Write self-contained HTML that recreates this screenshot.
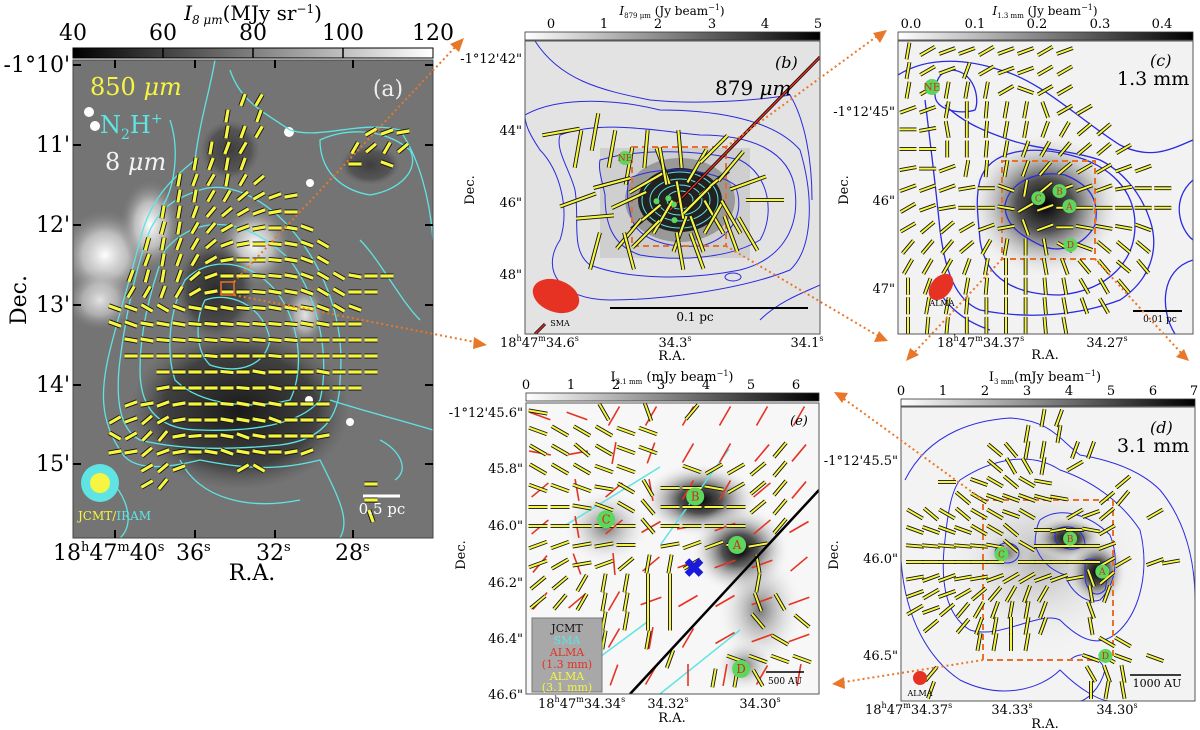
<!DOCTYPE html>
<html><head><meta charset="utf-8">
<style>
html,body{margin:0;padding:0;background:#fff;}
svg{display:block;font-family:"DejaVu Serif","Liberation Serif",serif;}
</style></head>
<body>
<svg id="fig" width="1200" height="730" viewBox="0 0 1200 730" xmlns="http://www.w3.org/2000/svg">
<defs>
  <linearGradient id="cbA" x1="0" x2="1"><stop offset="0" stop-color="#000"/><stop offset="1" stop-color="#fff"/></linearGradient>
  <linearGradient id="cbW" x1="0" x2="1"><stop offset="0" stop-color="#fff"/><stop offset="1" stop-color="#000"/></linearGradient>
  <radialGradient id="bright"><stop offset="0" stop-color="#fff"/><stop offset="0.5" stop-color="#ddd" stop-opacity="0.7"/><stop offset="1" stop-color="#888" stop-opacity="0"/></radialGradient>
  <radialGradient id="darkA"><stop offset="0" stop-color="#1a1a1a"/><stop offset="0.7" stop-color="#333" stop-opacity="0.8"/><stop offset="1" stop-color="#555" stop-opacity="0"/></radialGradient>
  <radialGradient id="blob"><stop offset="0" stop-color="#000"/><stop offset="0.35" stop-color="#333" stop-opacity="0.85"/><stop offset="1" stop-color="#fff" stop-opacity="0"/></radialGradient>
  <radialGradient id="blobSoft"><stop offset="0" stop-color="#555" stop-opacity="0.8"/><stop offset="1" stop-color="#fff" stop-opacity="0"/></radialGradient>
  <clipPath id="clipA"><rect x="73" y="60" width="360" height="478"/></clipPath>
  <clipPath id="clipB"><rect x="525" y="41" width="295" height="293"/></clipPath>
  <clipPath id="clipC"><rect x="898" y="41" width="295" height="293"/></clipPath>
  <clipPath id="clipD"><rect x="901" y="407" width="294" height="294"/></clipPath>
  <clipPath id="clipE"><rect x="526" y="403" width="293" height="291"/></clipPath>
</defs>

<!-- ============ PANEL A ============ -->
<g>
  <text x="253" y="20" font-size="20" text-anchor="middle"><tspan font-style="italic">I</tspan><tspan font-size="12" font-style="italic" dy="4">8 μm</tspan><tspan dy="-4">(MJy sr</tspan><tspan font-size="12" dy="-7">−1</tspan><tspan dy="7">)</tspan></text>
  <g font-size="22" text-anchor="middle">
    <text x="73" y="40">40</text><text x="163" y="40">60</text><text x="253" y="40">80</text><text x="343" y="40">100</text><text x="433" y="40">120</text>
  </g>
  <rect x="73" y="48" width="360" height="10" fill="url(#cbA)" stroke="#000"/>
  <g stroke="#000" stroke-width="1.5"><line x1="163" y1="48" x2="163" y2="58"/><line x1="253" y1="48" x2="253" y2="58"/><line x1="343" y1="48" x2="343" y2="58"/></g>
  <g clip-path="url(#clipA)">
    <rect x="73" y="60" width="360" height="478" fill="#747474"/>
    <ellipse cx="105" cy="255" rx="45" ry="45" fill="url(#bright)"/>
    <ellipse cx="150" cy="225" rx="30" ry="45" fill="url(#bright)"/>
    <ellipse cx="100" cy="300" rx="35" ry="30" fill="url(#bright)" opacity="0.8"/>
    <ellipse cx="255" cy="245" rx="35" ry="40" fill="url(#bright)"/>
    <ellipse cx="305" cy="315" rx="20" ry="30" fill="url(#bright)" opacity="0.8"/>
    <ellipse cx="240" cy="410" rx="110" ry="80" fill="url(#darkA)"/>
    <ellipse cx="215" cy="290" rx="40" ry="50" fill="url(#darkA)" opacity="0.8"/>
    <ellipse cx="230" cy="150" rx="30" ry="30" fill="url(#darkA)" opacity="0.6"/>
    <ellipse cx="370" cy="165" rx="30" ry="20" fill="url(#darkA)" opacity="0.6"/>
    <circle cx="89" cy="112" r="5" fill="#fff"/><circle cx="95" cy="126" r="5" fill="#fff"/><circle cx="289" cy="132" r="5" fill="#fff"/>
    <circle cx="310" cy="183" r="4" fill="#fff"/><circle cx="309" cy="400" r="4" fill="#fff"/><circle cx="350" cy="422" r="4" fill="#fff"/>
    <g fill="none" stroke="#5fe3e3" stroke-width="1.3">
      <path d="M215,60 C210,90 200,120 195,160 C170,180 150,200 140,240 C130,280 120,310 110,350 C100,390 100,420 120,450 C130,470 160,470 200,460 C250,470 280,470 320,460 C340,500 350,520 340,538"/>
      <path d="M230,70 C240,100 260,110 290,130 C320,140 360,120 400,130 C420,160 430,200 433,240"/>
      <path d="M150,230 C135,270 125,320 120,360 C115,400 120,430 140,440 C180,450 230,450 280,445 C320,440 340,420 340,380 C345,330 330,280 300,240 C270,200 230,180 200,190 C170,200 160,210 150,230Z"/>
      <path d="M165,250 C150,290 140,330 140,370 C140,410 160,430 200,430 C250,432 300,425 320,400 C330,360 320,300 290,260 C250,220 200,210 165,250Z"/>
      <path d="M185,280 C170,310 165,350 175,380 C200,405 250,410 290,400 C305,370 300,320 275,290 C250,260 210,255 185,280Z"/>
      <path d="M205,300 C195,320 195,350 210,365 C240,375 265,365 270,340 C265,310 235,290 205,300Z"/>
      <path d="M320,140 C340,130 380,125 410,150 C420,170 400,190 370,195 C340,190 320,170 320,140Z"/>
      <path d="M330,400 C360,410 400,420 433,430"/>
      <path d="M95,470 C120,480 140,520 120,538"/>
      <path d="M180,460 C200,500 250,510 300,500"/>
      <path d="M380,440 C400,450 410,470 395,480"/>
      <path d="M170,120 C180,150 175,190 160,210"/>
      <path d="M360,240 C380,260 400,300 420,320"/>
    </g>
    <g id="vecA"></g>
    <rect x="221" y="282" width="13" height="13" fill="none" stroke="#e8702a" stroke-width="1.5"/>
    <text x="388" y="96" font-size="22" fill="#eee" text-anchor="middle">(a)</text>
    <text x="90" y="95" font-size="24" fill="#f5f542">850 <tspan font-style="italic">μm</tspan></text>
    <text x="100" y="133" font-size="24" fill="#5fe3e3">N<tspan font-size="14" dy="6">2</tspan><tspan dy="-6">H</tspan><tspan font-size="14" dy="-10">+</tspan></text>
    <text x="105" y="170" font-size="24" fill="#f2f2f2">8 <tspan font-style="italic">μm</tspan></text>
    <circle cx="100" cy="483" r="19" fill="#5fe3e3"/>
    <circle cx="100" cy="483" r="10" fill="#f5f542"/>
    <text x="78" y="520" font-size="12" fill="#f5f542">JCMT/<tspan fill="#5fe3e3">IRAM</tspan></text>
    <line x1="363" y1="496" x2="400" y2="496" stroke="#fff" stroke-width="3"/>
    <text x="382" y="514" font-size="15" fill="#fff" text-anchor="middle">0.5 pc</text>
  </g>
  <rect x="73" y="60" width="360" height="478" fill="none" stroke="#444"/>
  <g id="ticksA"></g>
  <g font-size="22" text-anchor="end">
    <text x="70" y="72">-1°10'</text><text x="70" y="152">11'</text><text x="70" y="232">12'</text><text x="70" y="312">13'</text><text x="70" y="392">14'</text><text x="70" y="471">15'</text>
  </g>
  <g font-size="22">
    <text x="53" y="560">18<tspan font-size="13" dy="-9">h</tspan><tspan dy="9">47</tspan><tspan font-size="13" dy="-9">m</tspan><tspan dy="9">40</tspan><tspan font-size="13" dy="-9">s</tspan></text>
    <text x="176" y="560">36<tspan font-size="13" dy="-9">s</tspan></text>
    <text x="256" y="560">32<tspan font-size="13" dy="-9">s</tspan></text>
    <text x="335" y="560">28<tspan font-size="13" dy="-9">s</tspan></text>
  </g>
  <text x="252" y="580" font-size="22" text-anchor="middle">R.A.</text>
  <text x="0" y="0" font-size="22" text-anchor="middle" transform="translate(26,300) rotate(-90)">Dec.</text>
</g>

<!-- ============ PANEL B ============ -->
<g>
  <text x="672" y="15" font-size="12" text-anchor="middle"><tspan font-style="italic">I</tspan><tspan font-size="7" dy="3">879 μm</tspan><tspan dy="-3"> (Jy beam</tspan><tspan font-size="8" dy="-5">−1</tspan><tspan dy="5">)</tspan></text>
  <g font-size="13" text-anchor="middle"><text x="551" y="28">0</text><text x="604" y="28">1</text><text x="658" y="28">2</text><text x="712" y="28">3</text><text x="765" y="28">4</text><text x="818" y="28">5</text></g>
  <rect x="525" y="32" width="295" height="8" fill="url(#cbW)" stroke="#333" stroke-width="0.8"/>
  <g clip-path="url(#clipB)">
    <rect x="525" y="41" width="295" height="293" fill="#e3e3e3"/>
    <rect x="600" y="148" width="150" height="110" fill="#cfcfcf"/>
    <ellipse cx="680" cy="200" rx="55" ry="42" fill="#999"/>
    <ellipse cx="680" cy="200" rx="42" ry="32" fill="#222"/>
    <g fill="none" stroke="#2a2ae0" stroke-width="1">
      <path d="M535,41 C560,80 600,90 650,100 C700,105 760,100 790,95 C805,120 812,160 812,200"/>
      <path d="M525,115 C560,95 620,100 660,110 C700,110 770,115 800,150 C815,200 812,250 790,270 C740,290 660,300 610,300 C560,300 540,270 560,240 C570,210 560,170 540,150 C530,135 525,125 525,115Z"/>
      <path d="M560,135 C600,120 650,130 700,135 C750,135 790,150 795,190 C800,230 780,260 740,270 C690,280 630,280 590,265 C570,250 580,220 575,190 C570,170 555,150 560,135Z"/>
      <path d="M600,160 C640,148 700,150 740,160 C770,175 775,215 760,240 C730,258 680,262 640,255 C610,245 605,220 605,195 C602,180 598,170 600,160Z"/>
      <path d="M630,178 C660,165 710,168 735,185 C745,210 735,235 705,245 C670,250 640,240 632,220 C628,205 625,190 630,178Z"/>
      <path d="M760,320 C780,300 810,290 820,285"/>
      <ellipse cx="733" cy="277" rx="8" ry="4"/>
    </g>
    <g fill="none" stroke="#5fe3e3" stroke-width="1">
      <ellipse cx="680" cy="200" rx="38" ry="28"/><ellipse cx="680" cy="200" rx="30" ry="21"/><ellipse cx="680" cy="200" rx="22" ry="15"/><ellipse cx="680" cy="200" rx="13" ry="9"/>
    </g>
    <rect x="632" y="147" width="94" height="99" fill="none" stroke="#e8702a" stroke-width="2" stroke-dasharray="6,4"/>
    <line x1="670" y1="210" x2="820" y2="57" stroke="#000" stroke-width="3"/>
    <line x1="670" y1="210" x2="820" y2="57" stroke="#e03020" stroke-width="1.5"/>
    <line x1="535" y1="334" x2="545" y2="324" stroke="#000" stroke-width="3"/><line x1="535" y1="334" x2="545" y2="324" stroke="#e03020" stroke-width="1.5"/>
    <g id="vecB"></g>
    <g id="coresB"></g>
    <ellipse cx="556" cy="296" rx="24" ry="16" transform="rotate(20 556 296)" fill="#e53222"/>
    <text x="560" y="326" font-size="8" text-anchor="middle">SMA</text>
    <line x1="610" y1="308" x2="808" y2="308" stroke="#000" stroke-width="2"/>
    <text x="695" y="321" font-size="12" text-anchor="middle">0.1 pc</text>
    <text x="775" y="68" font-size="16" font-style="italic">(b)</text>
    <text x="715" y="95" font-size="20">879 <tspan font-style="italic">μm</tspan></text>
  </g>
  <rect x="525" y="41" width="295" height="293" fill="none" stroke="#555"/>
  <g font-size="13" text-anchor="end"><text x="522" y="63">-1°12'42"</text><text x="522" y="135">44"</text><text x="522" y="207">46"</text><text x="522" y="279">48"</text></g>
  <g font-size="13">
    <text x="500" y="347">18<tspan font-size="8" dy="-6">h</tspan><tspan dy="6">47</tspan><tspan font-size="8" dy="-6">m</tspan><tspan dy="6">34.6</tspan><tspan font-size="8" dy="-6">s</tspan></text>
    <text x="675" y="347" text-anchor="middle">34.3<tspan font-size="8" dy="-6">s</tspan></text>
    <text x="807" y="347" text-anchor="middle">34.1<tspan font-size="8" dy="-6">s</tspan></text>
  </g>
  <text x="672" y="360" font-size="13" text-anchor="middle">R.A.</text>
  <text font-size="13" text-anchor="middle" transform="translate(474,190) rotate(-90)">Dec.</text>
</g>

<!-- ============ PANEL C ============ -->
<g>
  <text x="1045" y="15" font-size="12" text-anchor="middle"><tspan font-style="italic">I</tspan><tspan font-size="7" dy="3">1.3 mm</tspan><tspan dy="-3"> (Jy beam</tspan><tspan font-size="8" dy="-5">−1</tspan><tspan dy="5">)</tspan></text>
  <g font-size="13" text-anchor="middle"><text x="911" y="28">0.0</text><text x="975" y="28">0.1</text><text x="1037" y="28">0.2</text><text x="1100" y="28">0.3</text><text x="1162" y="28">0.4</text></g>
  <rect x="898" y="32" width="295" height="8" fill="url(#cbW)" stroke="#333" stroke-width="0.8"/>
  <g clip-path="url(#clipC)">
    <rect x="898" y="41" width="295" height="293" fill="#f2f2f2"/>
    <ellipse cx="1045" cy="205" rx="80" ry="75" fill="url(#blob)"/>
    <g fill="none" stroke="#2a2ae0" stroke-width="1.3">
      <path d="M950,70 C975,70 980,100 975,110 C960,115 935,110 935,95 C935,80 940,72 950,70Z"/>
      <path d="M898,75 C930,55 970,60 1000,70 C1040,80 1080,120 1120,145 C1150,160 1170,150 1193,140"/>
      <path d="M925,100 C930,140 935,180 940,230 C945,270 955,300 980,310 C1030,320 1080,315 1120,300 C1150,280 1160,250 1150,220 C1140,190 1120,170 1100,160 C1070,150 1040,150 1010,140 C980,130 960,120 945,105"/>
      <path d="M980,180 C990,150 1030,145 1070,155 C1110,165 1135,190 1135,225 C1135,260 1110,290 1060,295 C1010,295 985,275 980,240 C978,215 975,200 980,180Z"/>
      <path d="M1005,205 C1010,180 1040,170 1065,175 C1090,185 1100,200 1095,225 C1085,245 1060,255 1040,245 C1020,235 1005,225 1005,205Z"/>
      <path d="M1193,180 C1170,200 1180,230 1193,240"/>
      <path d="M1193,260 C1160,270 1160,310 1175,334"/>
      <path d="M935,280 C940,300 960,320 990,330"/>
    </g>
    <rect x="1002" y="161" width="93" height="98" fill="none" stroke="#e8702a" stroke-width="2" stroke-dasharray="6,4"/>
    <g id="vecC"></g>
    <g id="coresC"></g>
    <ellipse cx="941" cy="287" rx="10" ry="15" transform="rotate(40 941 287)" fill="#e53222"/>
    <text x="942" y="306" font-size="8" text-anchor="middle">ALMA</text>
    <line x1="1133" y1="311" x2="1182" y2="311" stroke="#000" stroke-width="2"/>
    <text x="1160" y="322" font-size="9" text-anchor="middle">0.01 pc</text>
    <text x="1150" y="66" font-size="16" font-style="italic">(c)</text>
    <text x="1117" y="85" font-size="19">1.3 mm</text>
  </g>
  <rect x="898" y="41" width="295" height="293" fill="none" stroke="#555"/>
  <g font-size="13" text-anchor="end"><text x="895" y="116">-1°12'45"</text><text x="895" y="205">46"</text><text x="895" y="293">47"</text></g>
  <g font-size="13">
    <text x="937" y="347">18<tspan font-size="8" dy="-6">h</tspan><tspan dy="6">47</tspan><tspan font-size="8" dy="-6">m</tspan><tspan dy="6">34.37</tspan><tspan font-size="8" dy="-6">s</tspan></text>
    <text x="1107" y="347" text-anchor="middle">34.27<tspan font-size="8" dy="-6">s</tspan></text>
  </g>
  <text x="1045" y="359" font-size="13" text-anchor="middle">R.A.</text>
  <text font-size="13" text-anchor="middle" transform="translate(848,190) rotate(-90)">Dec.</text>
</g>

<!-- ============ PANEL E ============ -->
<g>
  <text x="672" y="381" font-size="13" text-anchor="middle">I<tspan font-size="7" dy="3">3.1 mm</tspan><tspan dy="-3"> (mJy beam</tspan><tspan font-size="8" dy="-5">−1</tspan><tspan dy="5">)</tspan></text>
  <g font-size="13" text-anchor="middle"><text x="526" y="389">0</text><text x="571" y="389">1</text><text x="616" y="389">2</text><text x="661" y="389">3</text><text x="706" y="389">4</text><text x="751" y="389">5</text><text x="796" y="389">6</text></g>
  <rect x="526" y="393" width="293" height="8" fill="url(#cbW)" stroke="#333" stroke-width="0.8"/>
  <g clip-path="url(#clipE)">
    <rect x="526" y="403" width="293" height="291" fill="#f7f7f7"/>
    <ellipse cx="606" cy="527" rx="45" ry="40" fill="url(#blobSoft)"/>
    <ellipse cx="700" cy="500" rx="60" ry="38" fill="url(#blob)"/>
    <ellipse cx="740" cy="550" rx="50" ry="45" fill="url(#blob)"/>
    <ellipse cx="760" cy="610" rx="45" ry="60" fill="url(#blobSoft)"/>
    <ellipse cx="745" cy="665" rx="30" ry="28" fill="url(#blobSoft)"/>
    <g stroke="#5fe3e3" stroke-width="1.5">
      <line x1="561" y1="528" x2="660" y2="467"/><line x1="661" y1="544" x2="729" y2="449"/>
      <line x1="555" y1="690" x2="650" y2="620"/><line x1="660" y1="694" x2="740" y2="630"/>
    </g>
    <g id="vecE"></g>
    <line x1="630" y1="694" x2="819" y2="490" stroke="#000" stroke-width="2.5"/>
    <text x="694" y="577" font-size="26" fill="#1a1adc" text-anchor="middle" font-weight="bold">✖</text>
    <g id="coresE"></g>
    <rect x="532" y="618" width="70" height="74" fill="#a8a8a8" stroke="#777"/>
    <g font-size="11" text-anchor="middle">
      <text x="567" y="632" fill="#111">JCMT</text><text x="567" y="644" fill="#5fe3e3">SMA</text>
      <text x="567" y="656" fill="#e53222">ALMA</text><text x="567" y="668" fill="#e53222">(1.3 mm)</text>
      <text x="567" y="680" fill="#f5f542">ALMA</text><text x="567" y="691" fill="#f5f542">(3.1 mm)</text>
    </g>
    <line x1="766" y1="672" x2="804" y2="672" stroke="#000" stroke-width="1.5"/>
    <text x="785" y="684" font-size="9" text-anchor="middle">500 AU</text>
    <text x="790" y="425" font-size="13" font-style="italic">(e)</text>
  </g>
  <rect x="526" y="403" width="293" height="291" fill="none" stroke="#555"/>
  <g font-size="13" text-anchor="end"><text x="523" y="417">-1°12'45.6"</text><text x="523" y="473">45.8"</text><text x="523" y="530">46.0"</text><text x="523" y="587">46.2"</text><text x="523" y="643">46.4"</text><text x="523" y="699">46.6"</text></g>
  <g font-size="13">
    <text x="538" y="708">18<tspan font-size="8" dy="-6">h</tspan><tspan dy="6">47</tspan><tspan font-size="8" dy="-6">m</tspan><tspan dy="6">34.34</tspan><tspan font-size="8" dy="-6">s</tspan></text>
    <text x="668" y="708" text-anchor="middle">34.32<tspan font-size="8" dy="-6">s</tspan></text>
    <text x="760" y="708" text-anchor="middle">34.30<tspan font-size="8" dy="-6">s</tspan></text>
  </g>
  <text x="672" y="722" font-size="13" text-anchor="middle">R.A.</text>
  <text font-size="13" text-anchor="middle" transform="translate(465,555) rotate(-90)">Dec.</text>
</g>

<!-- ============ PANEL D ============ -->
<g>
  <text x="1045" y="381" font-size="13" text-anchor="middle">I<tspan font-size="7" dy="3">3 mm</tspan><tspan dy="-3">(mJy beam</tspan><tspan font-size="8" dy="-5">−1</tspan><tspan dy="5">)</tspan></text>
  <g font-size="13" text-anchor="middle"><text x="901" y="395">0</text><text x="943" y="395">1</text><text x="985" y="395">2</text><text x="1027" y="395">3</text><text x="1069" y="395">4</text><text x="1111" y="395">5</text><text x="1153" y="395">6</text><text x="1194" y="395">7</text></g>
  <rect x="901" y="399" width="294" height="7" fill="url(#cbW)" stroke="#333" stroke-width="0.8"/>
  <g clip-path="url(#clipD)">
    <rect x="901" y="407" width="294" height="294" fill="#f3f3f3"/>
    <ellipse cx="1040" cy="560" rx="110" ry="100" fill="url(#blobSoft)" opacity="0.5"/>
    <ellipse cx="1007" cy="553" rx="25" ry="22" fill="url(#blobSoft)"/>
    <ellipse cx="1068" cy="538" rx="35" ry="22" fill="url(#blob)"/>
    <ellipse cx="1097" cy="572" rx="30" ry="35" fill="url(#blob)"/>
    <g fill="none" stroke="#2a2ae0" stroke-width="1">
      <path d="M905,480 C930,430 980,420 1010,418 C1050,420 1060,440 1080,455 C1110,460 1140,470 1160,490 C1185,520 1195,560 1195,600"/>
      <path d="M901,560 C905,620 930,660 960,680 C1000,700 1040,690 1060,670 C1080,690 1100,701 1110,701"/>
      <path d="M960,480 C990,460 1030,450 1060,470 C1090,480 1120,500 1140,530 C1150,570 1140,610 1120,630 C1100,650 1080,640 1060,620 C1040,610 1000,640 970,630 C945,615 940,580 945,540 C948,510 952,490 960,480Z"/>
      <path d="M1040,520 C1060,505 1090,515 1110,535 C1120,560 1115,585 1100,600 C1085,605 1070,590 1065,575 C1050,570 1040,560 1035,545 C1035,535 1037,525 1040,520Z"/>
      <path d="M1055,530 C1070,522 1085,530 1085,545 C1075,552 1060,550 1055,540Z"/>
      <path d="M1085,560 C1100,555 1110,570 1105,590 C1095,600 1085,590 1085,575Z"/>
      <ellipse cx="1007" cy="553" rx="12" ry="10"/>
      <path d="M1070,660 C1080,650 1100,655 1105,670 C1100,690 1085,701 1080,701"/>
    </g>
    <rect x="983" y="500" width="130" height="160" fill="none" stroke="#e8702a" stroke-width="2" stroke-dasharray="6,4"/>
    <g id="vecD"></g>
    <g id="coresD"></g>
    <circle cx="920" cy="678" r="7" fill="#e53222"/>
    <text x="920" y="696" font-size="8" text-anchor="middle">ALMA</text>
    <line x1="1130" y1="675" x2="1181" y2="675" stroke="#000" stroke-width="1.5"/>
    <text x="1157" y="687" font-size="11" text-anchor="middle">1000 AU</text>
    <text x="1150" y="433" font-size="16" font-style="italic">(d)</text>
    <text x="1117" y="452" font-size="19">3.1 mm</text>
  </g>
  <rect x="901" y="407" width="294" height="294" fill="none" stroke="#555"/>
  <g font-size="13" text-anchor="end"><text x="898" y="465">-1°12'45.5"</text><text x="898" y="563">46.0"</text><text x="898" y="660">46.5"</text></g>
  <g font-size="13">
    <text x="865" y="714">18<tspan font-size="8" dy="-6">h</tspan><tspan dy="6">47</tspan><tspan font-size="8" dy="-6">m</tspan><tspan dy="6">34.37</tspan><tspan font-size="8" dy="-6">s</tspan></text>
    <text x="1012" y="714" text-anchor="middle">34.33<tspan font-size="8" dy="-6">s</tspan></text>
    <text x="1117" y="714" text-anchor="middle">34.30<tspan font-size="8" dy="-6">s</tspan></text>
  </g>
  <text x="1045" y="728" font-size="13" text-anchor="middle">R.A.</text>
  <text font-size="13" text-anchor="middle" transform="translate(838,555) rotate(-90)">Dec.</text>
</g>

<!-- connectors -->
<g stroke="#e8772a" stroke-width="2" stroke-dasharray="2,3" fill="none">
  <line x1="234" y1="282" x2="458" y2="44"/>
  <line x1="234" y1="295" x2="480" y2="343"/>
  <line x1="726" y1="147" x2="880" y2="34"/>
  <line x1="726" y1="246" x2="880" y2="337"/>
  <line x1="1002" y1="259" x2="912" y2="355"/>
  <line x1="1095" y1="259" x2="1183" y2="355"/>
  <line x1="983" y1="500" x2="840" y2="396"/>
  <line x1="983" y1="660" x2="838" y2="683"/>
</g>
<g fill="#e8772a">
  <polygon points="464,38 450,44 459,52"/>
  <polygon points="487,345 474,337 473,349"/>
  <polygon points="887,30 873,33 880,43"/>
  <polygon points="888,341 874,342 879,331"/>
  <polygon points="906,361 910,348 919,355"/>
  <polygon points="1189,361 1176,357 1184,349"/>
  <polygon points="834,392 848,393 842,403"/>
  <polygon points="832,684 844,677 845,689"/>
</g>
</svg>

<script>
const _ = null;
// ---- Panel (a): 850um JCMT polarization angles (deg), rows top->bottom, 19 cols
const aAngles = [
 [_,_,_,_,_,_,_,_,70,60,_,_,_,_,_,_,_,_,_],
 [_,_,_,_,_,_,_,80,_,70,_,_,_,_,_,_,_,_,_],
 [_,_,_,_,_,_,_,80,70,60,_,_,_,_,_,_,30,20,10],
 [_,_,_,_,_,_,80,70,60,_,_,_,_,_,_,60,40,60,40],
 [_,_,_,_,_,80,70,80,70,_,_,_,_,_,_,0,_,-20,_],
 [_,_,_,_,80,70,60,80,60,40,_,_,_,_,_,_,_,_,_],
 [_,_,_,_,80,80,60,60,40,30,20,10,_,_,_,_,_,_,_],
 [_,_,_,80,80,70,50,40,30,20,10,0,_,_,_,_,_,_,_],
 [_,_,_,75,80,60,50,30,20,10,0,-10,-20,_,_,_,_,_,_],
 [_,_,75,80,70,60,40,20,10,0,-5,-10,-20,-30,_,_,_,_,_],
 [_,_,70,80,70,60,30,10,0,0,-5,-10,-20,-30,_,_,_,_,_],
 [_,70,75,80,70,40,20,0,0,-5,-5,-10,-20,-30,-30,-10,0,0,_],
 [_,60,60,70,60,30,10,0,0,-5,-10,-10,-20,-30,-30,0,0,_,_],
 [-20,-20,-30,-30,-20,-10,-10,-10,-5,-5,-10,-10,-10,-20,-30,-20,_,_,_],
 [-20,-20,-10,-10,-10,-5,-5,-5,-5,-5,-5,-5,-10,-10,0,0,_,_,_],
 [_,-10,-10,-5,-5,-5,-5,-5,-5,-5,-5,-5,0,0,0,0,0,_,_],
 [_,0,0,0,0,0,-5,0,0,0,-5,0,0,0,0,0,0,_,_],
 [_,_,_,0,0,0,0,-5,0,-10,0,0,0,-10,0,0,0,_,_],
 [_,_,_,10,0,0,0,0,-5,0,-10,0,0,0,0,0,_,_,_],
 [_,20,10,20,10,0,0,-5,-10,-10,-10,0,0,0,_,_,_,_,_],
 [30,20,40,30,10,0,0,-10,-10,-10,-20,0,0,0,_,_,_,_,_],
 [-30,30,45,50,10,5,0,-10,-20,-10,0,0,0,10,_,_,_,_,_],
 [10,10,40,20,10,0,-10,-20,-10,-10,0,10,20,_,_,_,_,_,_],
 [_,_,30,40,20,_,_,_,30,-30,_,_,_,_,_,_,_,_,_],
 [_,_,30,50,_,_,_,_,_,_,_,_,_,_,_,_,0,_,_],
 [_,_,_,_,_,_,_,_,_,_,_,_,_,_,_,_,0,_,_],
 [_,_,_,_,_,_,_,_,_,_,_,_,_,_,_,_,-70,_,_]
];
// ---- Panel (b): SMA 879um vectors, grid offsets from core, angles
const bCol = [-7,-6,-5,-4,-4,-3,-3,-2,-2,-1,-1,0,0,1,1,2,2,3,3,4,-6,-5,-4,-3,-2,-1,0,1,2,3,4,5,-5,-3,-2,0,1,2];
const bRow = [-4,-3,-4,-3,-1,-2,0,1,-1,-2,1,-3,2,-2,2,-1,1,-2,2,-1,0,1,-1,2,2,-2,0,0,1,1,2,0,3,3,-3,3,3,-3];
const bAng = [10,80,80,80,15,80,25,40,30,-70,60,-85,70,60,-70,40,-60,50,-70,20,20,5,15,50,45,-80,-80,45,60,-60,-60,0,75,-75,85,-80,-70,45];
// ---- Panel (c): ALMA 1.3mm angles, 15x15 grid
const cAngles = [
 [80,30,20,20,30,20,20,30,20,_,_,_,_,_,_],
 [80,30,20,70,30,20,20,30,30,_,_,_,_,_,_],
 [80,30,80,80,80,30,-20,30,30,_,_,_,_,_,_],
 [20,20,80,90,85,80,80,-70,30,30,_,_,_,_,_],
 [0,10,-80,90,85,80,80,70,60,40,40,_,_,_,_],
 [0,0,90,90,85,80,70,60,50,40,40,30,_,_,_],
 [10,0,20,80,85,80,70,50,40,30,30,20,20,_,_],
 [20,20,20,10,0,-20,80,40,20,20,20,10,0,0,_],
 [30,20,10,0,0,-10,30,20,0,0,0,0,0,0,_],
 [30,40,40,30,20,10,-70,20,0,-10,-10,-10,-20,_,_],
 [50,50,50,40,60,80,90,-80,-30,-20,-40,-40,-40,_,_],
 [60,60,60,70,80,90,90,-80,-70,-50,-50,-40,-50,_,_],
 [90,70,60,80,85,90,90,-85,-80,-60,-60,-50,_,_,_],
 [90,80,80,85,90,90,90,-85,-80,-70,-60,_,_,_,_],
 [90,85,85,90,90,90,90,-85,-80,_,_,_,_,_,_]
];
// ---- Panel (d): ALMA 3.1mm angles, 17 cols x 18 rows
const dAngles = [
 [_,_,_,_,_,_,_,_,80,70,_,_,_,_,_,_,_],
 [_,_,_,_,_,_,_,80,_,80,_,_,_,_,_,_,_],
 [_,_,_,_,_,-40,-50,80,80,_,70,70,_,_,_,_,_],
 [_,_,_,_,_,-40,-60,-60,80,_,30,_,_,_,_,_,_],
 [_,_,0,_,-20,-30,-40,-30,-10,_,_,_,_,40,_,_,_],
 [_,_,_,-40,-30,-20,-20,-20,-15,-10,_,_,40,50,_,_,_],
 [-30,-40,-30,-40,-30,-30,-20,-30,_,_,30,20,40,_,_,30,_],
 [-20,-20,-20,-20,-30,-30,-40,_,0,10,0,-10,30,_,_,_,_],
 [-5,-5,-5,-5,-5,-10,-40,-30,0,0,0,0,20,_,_,_,_],
 [0,0,0,0,0,0,_,0,0,0,0,0,30,30,_,20,10],
 [10,20,20,10,10,20,30,30,20,20,10,-70,40,_,_,_,_],
 [20,30,20,30,40,50,60,70,60,_,_,-80,70,_,_,_,_],
 [30,20,40,50,60,70,80,80,70,_,_,-70,_,_,_,_,_],
 [_,40,_,50,70,80,90,80,70,_,_,-80,_,_,_,_,_],
 [_,_,_,_,80,80,90,80,_,_,_,_,-30,-30,_,_,_],
 [_,_,_,_,_,_,_,_,_,_,_,-20,-30,-20,_,-20,_],
 [_,50,_,_,_,_,_,_,_,_,_,-60,-70,-80,_,_,_],
 [_,70,_,_,_,_,_,_,_,_,_,90,80,-80,_,_,_]
];
// ---- Panel (e): ALMA 1.3mm (red) 8x8 and 3.1mm (yellow) 13x15
const eRed = [
 [-20,-20,60,60,60,60,60,60],
 [-10,10,80,70,60,60,50,50],
 [40,-80,40,-80,60,60,40,50],
 [40,-80,40,30,10,20,40,30],
 [50,-70,-85,40,20,20,20,40],
 [50,40,60,20,30,30,20,20],
 [60,60,60,80,60,30,20,20],
 [70,60,70,60,90,80,60,80]
];
const eYellow = [
 [-10,_,_,-60,_,-70,_,50,_,_,_,_,_],
 [-20,-30,-30,-30,-20,-20,_,_,_,_,_,_,_],
 [-30,-30,-40,-30,-20,-20,_,_,_,_,_,50,_],
 [-30,-30,-30,-20,-20,_,_,-20,30,30,40,50,_],
 [-20,-20,-20,-10,-30,-60,0,0,-10,30,40,50,_],
 [0,0,-10,-20,-30,-50,0,0,0,0,40,50,_],
 [0,0,0,0,0,-50,0,0,0,0,_,50,_],
 [20,20,10,10,0,_,10,20,20,0,10,_,_],
 [20,30,10,20,40,80,80,30,_,_,-80,_,_],
 [40,40,60,80,80,90,90,_,_,_,80,_,_],
 [40,50,60,80,80,90,90,_,_,_,-70,-60,_],
 [_,_,_,80,80,90,90,_,_,_,-50,_,-40],
 [_,_,_,80,_,80,_,_,_,_,_,-30,_],
 [_,_,_,_,_,_,70,_,_,-20,-20,-20,-20],
 [_,_,_,_,_,_,_,_,80,80,-60,_,_]
];
// cores: RA seconds (34.3xx, fractional part beyond 34) and Dec arcsec (-1°12'xx")
const coreNames = ["A","B","C","D"];
const coreRA = [0.3051,0.3144,0.3342,0.3042];
const coreDec = [46.07,45.90,45.98,46.505];

const NS = "http://www.w3.org/2000/svg";
function mk(tag, attrs, parent){ const e=document.createElementNS(NS,tag); for(const k in attrs) e.setAttribute(k,attrs[k]); parent.appendChild(e); return e; }
function seg(g, cx, cy, ang, len, color, w, outline){
  const r=ang*Math.PI/180, dx=Math.cos(r)*len/2, dy=-Math.sin(r)*len/2;
  if(outline){ const o=mk("line",{x1:cx-dx,y1:cy-dy,x2:cx+dx,y2:cy+dy,stroke:"#111","stroke-width":w+1.8},g);
    
     }
  const l=mk("line",{x1:cx-dx,y1:cy-dy,x2:cx+dx,y2:cy+dy,stroke:color,"stroke-width":w},g);
  
  
}
function grid(id, arr, x0, y0, sx, sy, len, color, w, outline){
  const g=document.getElementById(id);
  arr.forEach((row,j)=>row.forEach((a,i)=>{ if(a!==null) seg(g, x0+i*sx, y0+j*sy, a, len, color, w, outline); }));
}
grid("vecA", aAngles, 115, 100, 16, 16, 13, "#f5f542", 3.2, true);
(function(){ const g=document.getElementById("vecB"); const cx=680, cy=200, s=17;
  bAng.forEach((a,k)=>seg(g, cx+bCol[k]*s, cy+bRow[k]*s, a, 38, "#f5f542", 2.2, true)); })();
grid("vecC", cAngles, 908, 51, 19.6, 19.6, 17, "#f5f542", 2, true);
grid("vecD", dAngles, 915, 418, 16, 16, 18, "#f5f542", 2, true);
grid("vecE", eRed, 540, 416, 37, 37, 22, "#e53222", 1.6, false);
grid("vecE", eYellow, 538, 412, 22, 19, 19, "#f5f542", 2, true);

// axis functions per panel
function exE(ra){ return 760 + (0.30-ra)*4500; }
function eyE(dec){ return 525 + (dec-46.0)*285; }
function exD(ra){ return 1120 + (0.30-ra)*3467; }
function eyD(dec){ return 558 + (dec-46.0)*194; }
function exC(ra){ return 1107 + (0.27-ra)*1070; }
function eyC(dec){ return 200 + (dec-46.0)*89; }
function exB(ra){ return 677 + (0.30-ra)*600; }
function eyB(dec){ return 202 + (dec-46.0)*36; }

function core(gid, name, x, y, r){
  const g=document.getElementById(gid);
  const c=mk("circle",{cx:x,cy:y,r:r,fill:"#5cd65c"},g);
  
  
  const t=mk("text",{x:x,y:y+r*0.45,"font-size":r*1.3,"text-anchor":"middle",fill:"#d42a1a"},g);
  t.textContent=name;
}
coreNames.forEach((n,k)=>core("coresE", n, exE(coreRA[k]), eyE(coreDec[k]), 9));
coreNames.forEach((n,k)=>core("coresD", n, exD(coreRA[k]), eyD(coreDec[k]), 7));
coreNames.forEach((n,k)=>core("coresC", n, exC(coreRA[k]), eyC(coreDec[k]), 7));
core("coresC","NE",932,87,8);
coreNames.forEach((n,k)=>{ const g=document.getElementById("coresB"); const c=mk("circle",{cx:exB(coreRA[k]),cy:eyB(coreDec[k]),r:3,fill:"#5cd65c"},g);
  
   });
core("coresB","NE",625,158,7);

(function(){ const g=document.getElementById("ticksA");
  [65,145,225,305,385,464].forEach(y=>{ mk("line",{x1:73,y1:y,x2:81,y2:y,stroke:"#000","stroke-width":2},g); mk("line",{x1:425,y1:y,x2:433,y2:y,stroke:"#000","stroke-width":2},g); });
  [115,195,275,353].forEach(x=>{ mk("line",{x1:x,y1:538,x2:x,y2:530,stroke:"#000","stroke-width":2},g); mk("line",{x1:x,y1:60,x2:x,y2:68,stroke:"#000","stroke-width":2},g); });
})();
</script>
</body></html>
